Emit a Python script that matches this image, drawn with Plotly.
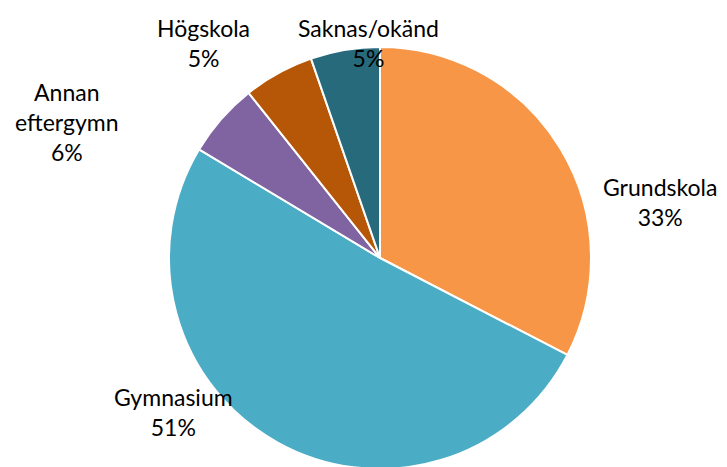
import plotly.graph_objects as go

labels = ["Grundskola", "Gymnasium", "Annan<br>eftergymn", "Högskola", "Saknas/okänd"]
values = [32.6, 51.0, 5.7, 5.4, 5.3]
colors = ["#F79646", "#4BACC6", "#8064A2", "#B65708", "#276A7C"]

# page has an 8px body margin; positions below are in window pixels
OFF = 8
label_pos = [(660, 202), (173, 412), (67, 122), (203, 43), (368, 43)]

W, H = 727, 467
total = sum(values)

cx, top, r = 380 - OFF, 47 - OFF, 211
fig = go.Figure(go.Pie(
    labels=labels, values=values,
    marker=dict(colors=colors, line=dict(color="white", width=2)),
    sort=False, direction="clockwise", rotation=0,
    textinfo="none", hoverinfo="label+percent",
    domain=dict(x=[(cx - r) / W, (cx + r) / W], y=[1 - (top + 2 * r) / H, 1 - top / H]),
    showlegend=False,
))

for lab, v, (px, py) in zip(labels, values, label_pos):
    fig.add_annotation(
        x=(px - OFF) / W, y=1 - (py - OFF) / H, xref="paper", yref="paper",
        text=f"{lab}<br>{round(100 * v / total)}%",
        showarrow=False, xanchor="center", yanchor="middle",
        font=dict(family="Lato, Carlito, sans-serif", size=23, color="#000000"),
        align="center",
    )

fig.update_layout(
    width=W, height=H,
    margin=dict(l=0, r=0, t=0, b=0),
    paper_bgcolor="white", plot_bgcolor="white",
)

fig.write_html("out.html")
